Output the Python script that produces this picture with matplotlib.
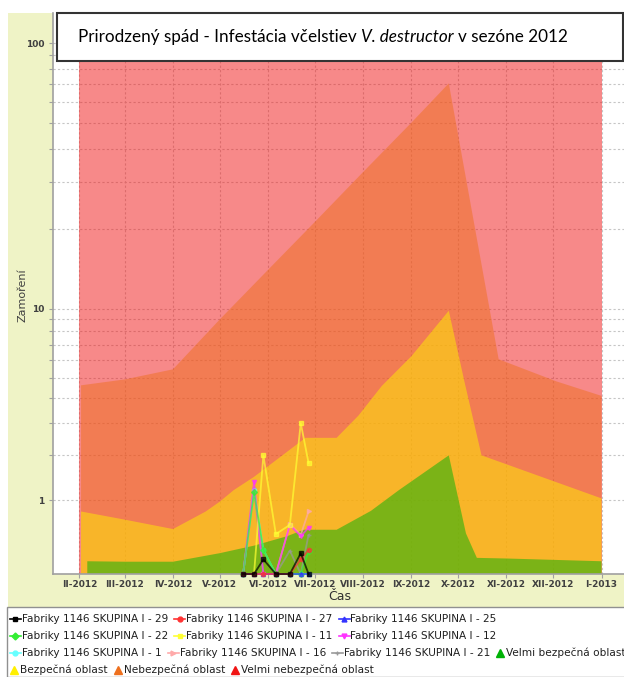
import numpy as np
import matplotlib
matplotlib.use("Agg")
import matplotlib.pyplot as plt
import matplotlib.dates as mdates
from matplotlib.patches import Rectangle
from matplotlib.lines import Line2D

# ---------------- data ----------------
month_ticks = ['2012-02-01', '2012-03-01', '2012-04-01', '2012-05-01', '2012-06-01', '2012-07-01',
               '2012-08-01', '2012-09-01', '2012-10-01', '2012-11-01', '2012-12-01', '2013-01-01']
month_labels = ['II-2012', 'III-2012', 'IV-2012', 'V-2012', 'VI-2012', 'VII-2012',
                'VIII-2012', 'IX-2012', 'X-2012', 'XI-2012', 'XII-2012', 'I-2013']

red_dates = ['2012-02-01', '2013-01-01']
red_values = [1000, 1000]

orange_dates = ['2012-02-02', '2012-03-01', '2012-04-01', '2012-05-01', '2012-06-01', '2012-07-01',
                '2012-08-01', '2012-09-01', '2012-09-25', '2012-10-27', '2012-12-03', '2013-01-01']
orange_values = [4.6, 4.9, 5.45, 9.0, 14.0, 21.2, 32.7, 50.2, 70.6, 6.05, 4.8, 4.1]

yellow_dates = ['2012-02-02', '2012-03-01', '2012-04-01', '2012-04-22', '2012-05-01', '2012-05-10',
                '2012-05-23', '2012-06-13', '2012-06-25', '2012-07-15', '2012-07-29', '2012-08-13',
                '2012-09-01', '2012-09-25', '2012-10-05', '2012-10-16', '2013-01-01']
yellow_values = [0.80, 0.67, 0.53, 0.80, 0.97, 1.19, 1.47, 2.09, 2.51, 2.51, 3.28, 4.57,
                 6.24, 9.8, 4.8, 2.0, 1.03]

green_dates = ['2012-02-06', '2012-03-01', '2012-04-01', '2012-05-01', '2012-05-23', '2012-06-13',
               '2012-06-24', '2012-07-15', '2012-08-06', '2012-08-24', '2012-09-25', '2012-10-06',
               '2012-10-13', '2012-11-01', '2013-01-01']
green_values = [0.13, 0.125, 0.125, 0.22, 0.31, 0.43, 0.52, 0.52, 0.81, 1.19, 2.0, 0.47,
                0.167, 0.16, 0.13]

sample_dates = ['2012-05-16', '2012-05-23', '2012-05-29', '2012-06-06', '2012-06-15', '2012-06-22', '2012-06-27']
s29 = [0, 0, 0.15, 0, 0, 0.22, 0]
s27 = [0, 0, 0, 0, 0, 0.15, 0.26]
s25 = [0, 0, 0, 0, 0, 0, 0]
s22 = [0, 1.15, 0.26, 0, 0, 0, 0.24]
s11 = [np.nan, 0, 2.0, 0.46, 0.59, 3.0, 1.8]
s12 = [0, 1.36, 0, 0, 0.59, 0.43, 0.55]
s1 = [0, 1.2, 0.26, 0, 0, 0, 0]
s16 = [0, 0, 0, 0, 0.6, 0.45, 0.8]
s21 = [0, 1.23, 0, 0, 0.25, 0, 0.45]

series_names = ['Fabriky 1146 SKUPINA I - 29', 'Fabriky 1146 SKUPINA I - 27', 'Fabriky 1146 SKUPINA I - 25',
                'Fabriky 1146 SKUPINA I - 22', 'Fabriky 1146 SKUPINA I - 11', 'Fabriky 1146 SKUPINA I - 12',
                'Fabriky 1146 SKUPINA I - 1', 'Fabriky 1146 SKUPINA I - 16', 'Fabriky 1146 SKUPINA I - 21']
series_values = [s29, s27, s25, s22, s11, s12, s1, s16, s21]
area_names = ['Velmi bezpečná oblast', 'Bezpečná oblast', 'Nebezpečná oblast', 'Velmi nebezpečná oblast']

title_parts = ['Prirodzený spád - Infestácia včelstiev', 'V. destructor', 'v sezóne 2012']
ylabel = 'Zamoření'
xlabel = 'Čas'

# ---------------- styles ----------------
series_colors = ['#000000', '#ff3333', '#3333ff', '#33ee33', '#ffff33', '#ff33ff', '#66ffff', '#ffaaaa', '#999999']
series_markers = ['s', 'o', '^', 'D', 's', 'v', 'o', '>', '+']
area_colors = ['#00b206', '#ffef00', '#ee701e', '#f01414']  # green, yellow, orange, red

W, H = 624, 677
fig = plt.figure(figsize=(W / 100, H / 100), dpi=100)
fig.patch.set_facecolor('white')


def prect(x0, y0, x1, y1):
    return (x0 / W, 1 - y1 / H, (x1 - x0) / W, (y1 - y0) / H)


def frect(x0, y0, x1, y1, **kw):
    r = prect(x0, y0, x1, y1)
    return Rectangle(r[:2], r[2], r[3], transform=fig.transFigure, **kw)


# yellow panel background
fig.patches.append(frect(8, 13, 640, 607, facecolor='#eff3c6', edgecolor='none', zorder=-5))

ax = fig.add_axes(prect(53, 13, 628, 574))
ax.set_facecolor('white')


def fwd(v):
    v = np.asarray(v, dtype=float)
    a = np.log10(np.clip(0.9 * v + 1.0, 1e-12, None))
    b = np.log10(np.clip(v, 1e-12, None))
    return np.where(v < 10, a, b)


def inv(g):
    g = np.asarray(g, dtype=float)
    return np.where(g < 1, (10.0 ** g - 1.0) / 0.9, 10.0 ** g)


ax.set_yscale('function', functions=(fwd, inv))


def d(lst):
    return mdates.date2num(np.array(lst, dtype='datetime64[D]'))


# areas (drawn from zero, semi-transparent, like JFreeChart)
for dates, vals, col in [(red_dates, red_values, area_colors[3]),
                         (orange_dates, orange_values, area_colors[2]),
                         (yellow_dates, yellow_values, area_colors[1]),
                         (green_dates, green_values, area_colors[0])]:
    xd = d(dates)
    ax.fill_between(xd, 0, vals, facecolor=col, alpha=0.5, linewidth=0, zorder=2)

# series lines
xs = d(sample_dates)
order = list(range(len(series_values)))[::-1]
for i in order:
    ax.plot(xs, series_values[i], color=series_colors[i], marker=series_markers[i], markersize=3,
            linewidth=1.3, alpha=0.7, zorder=3, clip_on=False)

x0 = mdates.date2num(np.datetime64('2012-02-01')) - 17
x1 = mdates.date2num(np.datetime64('2013-01-01')) + 17
ax.set_xlim(x0, x1)
ax.set_ylim(0, 130)

ax.set_xticks(d(month_ticks))
ax.set_xticklabels(month_labels)
ax.set_yticks([1, 10, 100])
ax.set_yticklabels(['1', '10', '100'])
minor = [2, 3, 4, 5, 6, 7, 8, 9, 20, 30, 40, 50, 60, 70, 80, 90]
ax.set_yticks(minor, minor=True)
ax.yaxis.set_minor_formatter(plt.NullFormatter())
ax.xaxis.set_minor_locator(plt.NullLocator())

ax.set_axisbelow(True)
gl = dict(color='#c6c6c6', linestyle=(0, (2, 2)), linewidth=0.8)
ax.grid(True, which='both', axis='y', **gl)
ax.grid(True, which='major', axis='x', **gl)

ax.tick_params(axis='both', which='both', length=3, width=0.8, color='#a0a0a0')
ax.tick_params(axis='x', pad=1.5)
ax.tick_params(axis='y', pad=3)
for lab in ax.get_xticklabels() + ax.get_yticklabels():
    lab.set_fontsize(6.5)
    lab.set_fontweight('bold')
    lab.set_color('#404040')

for s in ['top', 'right']:
    ax.spines[s].set_visible(False)
for s in ['left', 'bottom']:
    ax.spines[s].set_color('#a0a0a0')
    ax.spines[s].set_linewidth(1.2)

fig.text(22 / W, 1 - 295 / H, ylabel, rotation=90, ha='center', va='center', fontsize=8, color='#404040')
fig.text(340 / W, 1 - 596 / H, xlabel, ha='center', va='center', fontsize=9, color='#303030')

# title box
fig.patches.append(frect(57, 13, 622.5, 61, facecolor='white', edgecolor='#333333', linewidth=1.5, zorder=5))

renderer = fig.canvas.get_renderer()
tfont = 'Lato'
tsize = 12.3
ty = 1 - 37 / H


def tw(s, style='normal'):
    t = fig.text(0, 0, s, fontsize=tsize, family=tfont, style=style)
    w = t.get_window_extent(renderer).width
    t.remove()
    return w


space = tw('a a') - tw('aa')
cx = 78
for k, part in enumerate(title_parts):
    style = 'italic' if k == 1 else 'normal'
    t = fig.text(cx / W, ty, part, fontsize=tsize, family=tfont, style=style, va='center', ha='left',
                 color='black', zorder=6)
    cx += t.get_window_extent(renderer).width + space

# legend box
fig.patches.append(frect(7, 607, 640, 676.5, facecolor='white', edgecolor='#909090', linewidth=1.0, zorder=5))

rows = [[('s', 0), ('s', 1), ('s', 2)],
        [('s', 3), ('s', 4), ('s', 5)],
        [('s', 6), ('s', 7), ('s', 8), ('a', 0)],
        [('a', 1), ('a', 2), ('a', 3)]]
row_y = [619, 636, 653, 670]
lfs = 7.6
for r, items in enumerate(rows):
    x = 10
    yy = 1 - row_y[r] / H
    for kind, idx in items:
        if kind == 's':
            fig.lines.append(Line2D([x / W, (x + 11) / W], [yy, yy], transform=fig.transFigure,
                                    color=series_colors[idx], linewidth=1.2, zorder=6))
            fig.lines.append(Line2D([(x + 5.5) / W], [yy], transform=fig.transFigure,
                                    color=series_colors[idx], marker=series_markers[idx],
                                    markersize=3.5, linestyle='none', zorder=6))
            tx = x + 12
            label = series_names[idx]
        else:
            fig.lines.append(Line2D([(x + 4) / W], [yy], transform=fig.transFigure,
                                    color=area_colors[idx], marker='^', markersize=6,
                                    linestyle='none', zorder=6))
            tx = x + 10
            label = area_names[idx]
        t = fig.text(tx / W, yy, label, fontsize=lfs, va='center', ha='left', color='#202020', zorder=6)
        x = tx + t.get_window_extent(renderer).width + 6

fig.savefig('out.png', dpi=100, facecolor=fig.get_facecolor())
